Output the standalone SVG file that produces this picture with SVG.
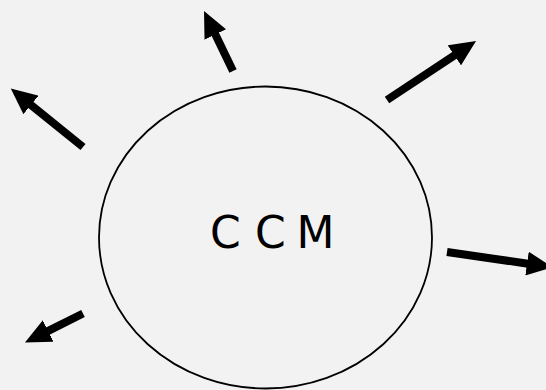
<svg xmlns="http://www.w3.org/2000/svg" width="546" height="390" viewBox="0 0 546 390">
<defs>
<style>
.arrow{stroke:#000;stroke-width:8;fill:none;marker-end:url(#head)}
.node{fill:none;stroke:#000;stroke-width:1.8}
.label{font-family:"DejaVu Sans",Verdana,sans-serif;font-size:44px;fill:#000}
</style>
<marker id="head" markerUnits="userSpaceOnUse" markerWidth="27" markerHeight="24" refX="1" refY="12" orient="auto">
<path d="M0,0 L26,12 L0,24 Z" fill="#000"/>
</marker>
</defs>
<rect width="546" height="390" fill="#f2f2f2"/>
<g id="ccm">
<ellipse class="node" cx="265.5" cy="237.5" rx="166.5" ry="151"/>
<text class="label" y="248"><tspan x="210">C</tspan><tspan x="255">C</tspan><tspan x="296.4">M</tspan></text>
</g>
<g id="connectors">
<line class="arrow" x1="83" y1="147" x2="30.2" y2="104.3"/>
<line class="arrow" x1="233" y1="71" x2="214.9" y2="33.6"/>
<line class="arrow" x1="387" y1="100" x2="455.2" y2="54.8"/>
<line class="arrow" x1="447" y1="252" x2="528" y2="263.7"/>
<line class="arrow" x1="83" y1="313.5" x2="47.3" y2="331.4"/>
</g>
</svg>
